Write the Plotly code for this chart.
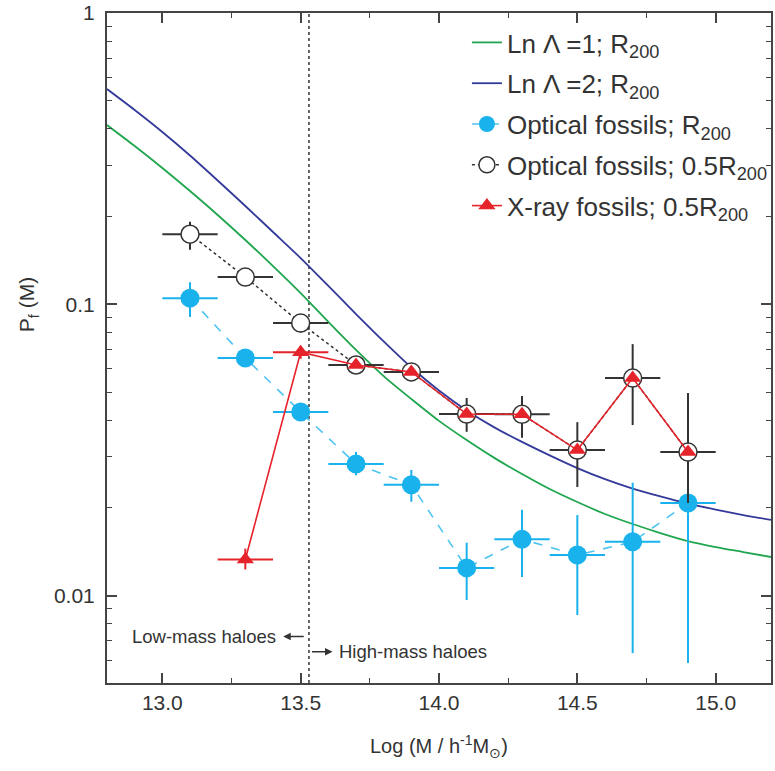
import plotly.graph_objects as go

# ---------------- data ----------------
mass = [13.1, 13.3, 13.5, 13.7, 13.9, 14.1, 14.3, 14.5, 14.7, 14.9]

opt_r200 = [0.105, 0.0654, 0.0427, 0.0283, 0.0240, 0.01245, 0.0156, 0.01378, 0.0153, 0.0208]
opt_r200_hi = [0.119, 0.069, 0.045, 0.0311, 0.0270, 0.0152, 0.0197, 0.0189, 0.0244, 0.035]
opt_r200_lo = [0.0904, 0.062, 0.0405, 0.0259, 0.0210, 0.00966, 0.01158, 0.00858, 0.00635, 0.00587]

opt_half = [0.174, 0.124, 0.0862, 0.0619, 0.0586, 0.0420, 0.0419, 0.0316, 0.0558, 0.0311]
opt_half_hi = [0.192, 0.133, 0.092, 0.066, 0.0625, 0.0477, 0.0484, 0.0394, 0.073, 0.0496]
opt_half_lo = [0.154, 0.116, 0.080, 0.058, 0.055, 0.0365, 0.0348, 0.0236, 0.0385, 0.0208]

mass_xray = [13.3, 13.5, 13.7, 13.9, 14.1, 14.3, 14.5, 14.7, 14.9]
xray = [0.0133, 0.0685, 0.0619, 0.0586, 0.0420, 0.0419, 0.0316, 0.0558, 0.0311]
xray_hi = [0.0145, 0.072, 0.0619, 0.0586, 0.0420, 0.0419, 0.0316, 0.0558, 0.0311]
xray_lo = [0.0123, 0.065, 0.0619, 0.0586, 0.0420, 0.0419, 0.0316, 0.0558, 0.0311]
xray_xerr = [0.1, 0.1, 0, 0, 0, 0, 0, 0, 0]

curve_x = [12.8, 12.9, 13.0, 13.1, 13.2, 13.3, 13.4, 13.5, 13.6, 13.7, 13.8, 13.9,
           14.0, 14.1, 14.2, 14.3, 14.4, 14.5, 14.6, 14.7, 14.8, 14.9, 15.0, 15.1, 15.2]
lnL1 = [0.4125, 0.3494, 0.2937, 0.2448, 0.2026, 0.1662, 0.1353, 0.1093, 0.0870, 0.0697,
        0.0567, 0.0473, 0.0398, 0.0342, 0.0297, 0.02615, 0.02323, 0.02096, 0.01906,
        0.01761, 0.01640, 0.01539, 0.01468, 0.01411, 0.01357]
lnL2 = [0.548, 0.4645, 0.3904, 0.3242, 0.2661, 0.2175, 0.1771, 0.1441, 0.1156, 0.0926,
        0.0746, 0.0607, 0.0506, 0.0432, 0.0378, 0.0337, 0.0303, 0.0274, 0.0251,
        0.0233, 0.0219, 0.0207, 0.01975, 0.0189, 0.0182]

divider_mass = 13.53

x_tick_vals = [13.0, 13.5, 14.0, 14.5, 15.0]
y_tick_vals = [0.01, 0.1, 1]
y_tick_text = ["0.01", "0.1", "1"]

# ---------------- styling ----------------
TXT = "#333333"
FONT = "Liberation Sans, Arial, sans-serif"
CYAN = "#1AB2EC"
CYAN_LINE = "#4DC3F0"
RED = "#E5232A"
GREEN = "#1FA64E"
BLUE = "#333A9A"
BLACK = "#333333"

fig = go.Figure()

fig.add_trace(go.Scatter(
    x=curve_x, y=lnL1, mode="lines", line=dict(color=GREEN, width=1.8, shape="spline", smoothing=0.8),
    name="Ln \u039b =1; R<sub>200</sub>", legendgroup="g1"))
fig.add_trace(go.Scatter(
    x=curve_x, y=lnL2, mode="lines", line=dict(color=BLUE, width=1.8, shape="spline", smoothing=0.8),
    name="Ln \u039b =2; R<sub>200</sub>", legendgroup="g2"))

fig.add_trace(go.Scatter(
    x=mass, y=opt_r200, mode="lines+markers",
    line=dict(color=CYAN_LINE, width=1.6, dash="dash"),
    marker=dict(color=CYAN, size=19, symbol="circle"),
    error_x=dict(type="constant", value=0.1, width=0, thickness=2, color=CYAN),
    error_y=dict(type="data", symmetric=False,
                 array=[h - v for h, v in zip(opt_r200_hi, opt_r200)],
                 arrayminus=[v - l for v, l in zip(opt_r200, opt_r200_lo)],
                 width=0, thickness=2, color=CYAN),
    name="Optical fossils; R<sub>200</sub>", legendgroup="g3"))

fig.add_trace(go.Scatter(
    x=mass, y=opt_half, mode="lines+markers",
    line=dict(color=BLACK, width=1.5, dash="dot"),
    marker=dict(color="white", size=18, symbol="circle", line=dict(color=BLACK, width=1.5)),
    error_x=dict(type="constant", value=0.1, width=0, thickness=2, color=BLACK),
    error_y=dict(type="data", symmetric=False,
                 array=[h - v for h, v in zip(opt_half_hi, opt_half)],
                 arrayminus=[v - l for v, l in zip(opt_half, opt_half_lo)],
                 width=0, thickness=2, color=BLACK),
    name="Optical fossils; 0.5R<sub>200</sub>", legendgroup="g4"))

fig.add_trace(go.Scatter(
    x=mass_xray, y=xray, mode="lines+markers",
    line=dict(color=RED, width=1.6),
    marker=dict(color=RED, size=15, symbol="triangle-up"),
    error_x=dict(type="data", array=xray_xerr, width=0, thickness=2, color=RED),
    error_y=dict(type="data", symmetric=False,
                 array=[h - v for h, v in zip(xray_hi, xray)],
                 arrayminus=[v - l for v, l in zip(xray, xray_lo)],
                 width=0, thickness=2, color=RED),
    name="X-ray fossils; 0.5R<sub>200</sub>", legendgroup="g5"))

fig.add_shape(type="line", xref="x", yref="paper", x0=divider_mass, x1=divider_mass,
              y0=0, y1=1, line=dict(color=BLACK, width=1.5, dash="dot"), layer="below")

# arrows and labels
fig.add_annotation(x=13.437, y=-2.14, ax=22, ay=0, xref="x", yref="y", text="",
                   showarrow=True, arrowhead=2, arrowsize=1, arrowwidth=1.5, arrowcolor=BLACK)
fig.add_annotation(x=13.419, y=-2.14, xref="x", yref="y", text="Low-mass haloes",
                   showarrow=False, xanchor="right", yanchor="middle",
                   font=dict(size=18.5, color=TXT, family=FONT))
fig.add_annotation(x=13.615, y=-2.193, ax=-22, ay=0, xref="x", yref="y", text="",
                   showarrow=True, arrowhead=2, arrowsize=1, arrowwidth=1.5, arrowcolor=BLACK)
fig.add_annotation(x=13.633, y=-2.193, xref="x", yref="y", text="High-mass haloes",
                   showarrow=False, xanchor="left", yanchor="middle",
                   font=dict(size=18.5, color=TXT, family=FONT))

# axis titles
fig.add_annotation(xref="paper", yref="paper", x=(28 - 107) / 666, y=(683 - 305) / 670,
                   text="P<sub>f</sub> (M)", textangle=-90, showarrow=False,
                   xanchor="center", yanchor="middle", font=dict(size=21, color=TXT, family=FONT))
fig.add_annotation(xref="paper", yref="paper", x=0.5, y=(683 - 746) / 670,
                   text="Log (M / h<sup>-1</sup>M<sub>\u2299</sub>)", showarrow=False,
                   xanchor="center", yanchor="middle", font=dict(size=20, color=TXT, family=FONT))

minor_y = []
for dec in [0.001, 0.01, 0.1]:
    for k in range(2, 10):
        minor_y.append(round(k * dec, 6))

fig.update_layout(
    width=775, height=771, autosize=False,
    margin=dict(l=107, r=2, t=13, b=88),
    paper_bgcolor="white", plot_bgcolor="white",
    font=dict(family=FONT, color=TXT, size=20),
    showlegend=True,
    legend=dict(x=(468 - 107) / 666, y=(683 - 19) / 670, xanchor="left", yanchor="top",
                bgcolor="rgba(0,0,0,0)", font=dict(size=26, color=TXT, family=FONT),
                tracegroupgap=4, traceorder="grouped"),
    xaxis=dict(range=[12.8, 15.2], tickvals=x_tick_vals, tickformat=".1f",
               ticks="inside", ticklen=10, tickwidth=1.6, tickcolor="#444",
               showline=True, linecolor="#444", linewidth=2, mirror="ticks",
               showgrid=False, zeroline=False,
               minor=dict(dtick=0.25, tick0=12.75, ticks="inside", ticklen=5, tickwidth=1.4, tickcolor="#444"),
               tickfont=dict(size=21, color=TXT)),
    yaxis=dict(type="log", range=[-2.3, 0], tickvals=y_tick_vals, ticktext=y_tick_text,
               ticks="inside", ticklen=10, tickwidth=1.6, tickcolor="#444",
               showline=True, linecolor="#444", linewidth=2, mirror="ticks",
               showgrid=False, zeroline=False,
               minor=dict(tickvals=minor_y, ticks="inside", ticklen=5, tickwidth=1.4, tickcolor="#444"),
               tickfont=dict(size=21, color=TXT), ticklabelstandoff=6),
)

fig.write_html("out.html")
